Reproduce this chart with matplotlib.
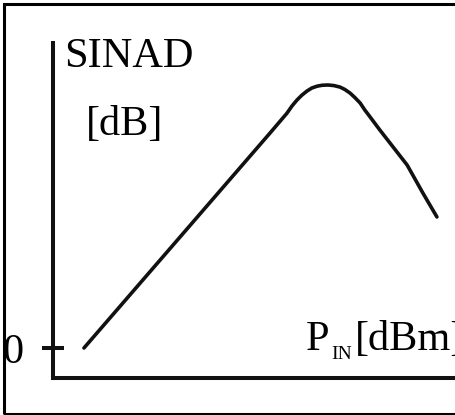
import matplotlib
matplotlib.use("Agg")
import matplotlib.pyplot as plt
from matplotlib.patches import Rectangle

# schematic SINAD curve (arbitrary units)
p_in = [7.7, 54.0, 58.2, 59.45, 60.7, 61.9, 63.2, 64.4, 65.7, 66.9, 68.4, 69.9, 71.4, 72.6,
        73.9, 75.1, 76.4, 77.6, 78.9, 81.3, 88.1, 92.0, 95.5]
sinad = [0.0, 71.7, 78.3, 80.7, 82.7, 84.3, 85.7, 86.7, 87.3, 87.6, 87.7, 87.5, 87.0, 86.2,
         85.0, 83.5, 81.7, 79.3, 77.0, 72.7, 61.0, 51.7, 43.7]
ytick_vals = [0]
ytick_labels = ["0"]
y_label_lines = ["SINAD", "[dB]"]
x_label_main = "P"
x_label_sub = "IN"
x_label_unit = "[dBm]"

W, H = 455, 415
fig = plt.figure(figsize=(W / 100, H / 100), dpi=100)
plt.rcParams['font.family'] = ['Liberation Serif', 'DejaVu Serif']

def fx(px):
    return px / W

def fy(py):
    return 1 - py / H

# outer frame
fig.patches.append(Rectangle((fx(4), fy(414)), 1.2, fy(4) - fy(414), transform=fig.transFigure,
                             fill=False, edgecolor='black', linewidth=2.2))

ax = fig.add_axes([fx(53), fy(378), 1 - fx(53), fy(43) - fy(378)])
ax.set_facecolor('none')
ax.plot(p_in, sinad, color='#111111', linewidth=2.6, solid_capstyle='round', solid_joinstyle='round')
ax.set_xlim(0, 100)
ax.set_ylim(-10, 101.7)
for s in ['top', 'right']:
    ax.spines[s].set_visible(False)
for s in ['left', 'bottom']:
    ax.spines[s].set_linewidth(2.9)
    ax.spines[s].set_color('#111111')
ax.set_xticks([])
ax.set_yticks(ytick_vals)
ax.set_yticklabels(ytick_labels, fontsize=30.5)
ax.tick_params(axis='y', direction='inout', length=16.5, width=2.9, pad=13, color='#111111')

# labels
fig.text(fx(64), fy(67), y_label_lines[0], fontsize=30.5, va='baseline', ha='left')
fig.text(fx(86), fy(135), y_label_lines[1], fontsize=30.5, va='baseline', ha='left')
fig.text(fx(306), fy(350), x_label_main, fontsize=30.5, va='baseline', ha='left')
fig.text(fx(331), fy(359), x_label_sub, fontsize=14, va='baseline', ha='left')
fig.text(fx(355), fy(350), x_label_unit, fontsize=30.5, va='baseline', ha='left')

fig.savefig('out.png', dpi=100)
